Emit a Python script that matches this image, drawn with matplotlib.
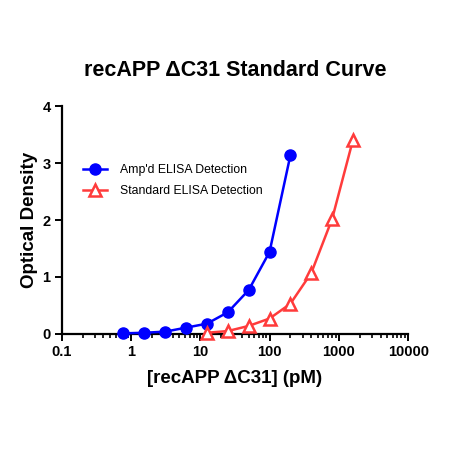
import matplotlib.pyplot as plt
from matplotlib.ticker import LogLocator, FixedLocator, FixedFormatter

plt.rcParams['font.family'] = ['Liberation Sans', 'DejaVu Sans']

# concentrations (pM) and optical density readings
amp_conc = [0.78, 1.56, 3.125, 6.25, 12.5, 25, 50, 100, 200]
amp_od = [0.01, 0.02, 0.04, 0.11, 0.18, 0.38, 0.77, 1.44, 3.14]
std_conc = [12.5, 25, 50, 100, 200, 400, 800, 1600]
std_od = [0.02, 0.05, 0.14, 0.27, 0.53, 1.07, 2.02, 3.41]

x_ticks = [0.1, 1, 10, 100, 1000, 10000]
x_tick_labels = ["0.1", "1", "10", "100", "1000", "10000"]
y_ticks = [0, 1, 2, 3, 4]

fig = plt.figure(figsize=(4.5, 4.5), dpi=100)
ax = fig.add_axes([0.137, 0.258, 0.770, 0.506])

ax.plot(amp_conc, amp_od, color="#0000ff", lw=1.8, marker="o", ms=8,
        label="Amp'd ELISA Detection", clip_on=False, zorder=3)
ax.plot(std_conc, std_od, color="#ff3b3b", lw=1.8, marker="^", ms=8,
        mfc="white", mec="#ff3b3b", mew=1.8,
        label="Standard ELISA Detection", clip_on=False, zorder=3)

ax.set_xscale("log")
ax.set_xlim(0.1, 10000)
ax.set_ylim(0, 4)
ax.xaxis.set_major_locator(FixedLocator(x_ticks))
ax.xaxis.set_major_formatter(FixedFormatter(x_tick_labels))
ax.xaxis.set_minor_locator(LogLocator(base=10, subs=range(2, 10)))
ax.set_yticks(y_ticks)

for side in ["top", "right"]:
    ax.spines[side].set_visible(False)
for side in ["left", "bottom"]:
    ax.spines[side].set_linewidth(1.6)

ax.tick_params(axis="both", which="major", direction="out", length=5,
               width=1.4, labelsize=10.5, pad=3)
ax.tick_params(axis="x", which="minor", direction="out", length=3, width=1.2)
for lbl in ax.get_xticklabels() + ax.get_yticklabels():
    lbl.set_fontweight("bold")

ax.set_title("recAPP \u0394C31 Standard Curve", fontsize=15.5,
             fontweight="bold", pad=22)
ax.set_xlabel("[recAPP \u0394C31] (pM)", fontsize=13.5, fontweight="bold",
              labelpad=8)
ax.set_ylabel("Optical Density", fontsize=13.5, fontweight="bold", labelpad=3)

ax.legend(loc="center left", bbox_to_anchor=(0.03, 0.673), frameon=False,
          fontsize=8.8, handlelength=2.0, handletextpad=1.0, labelspacing=0.75)

fig.savefig("out.png", dpi=100)
